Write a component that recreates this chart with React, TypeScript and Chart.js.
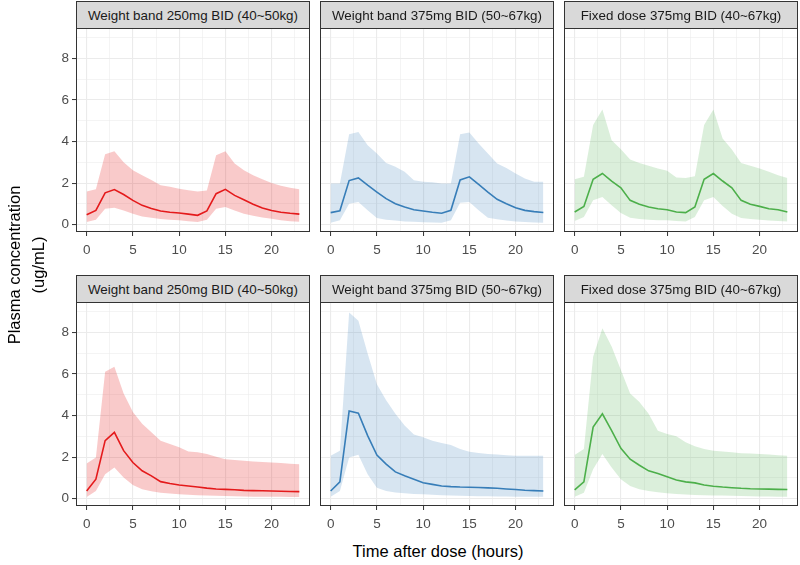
import React, { useEffect, useRef } from "react";
import { Chart, registerables } from "chart.js";

Chart.register(...registerables);

const hours = [0, 1, 2, 3, 4, 5, 6, 7, 8, 9, 10, 11, 12, 13, 14, 15, 16, 17, 18, 19, 20, 21, 22, 23];

const xMajorTicks = [0, 5, 10, 15, 20];
const xMinorTicks = [2.5, 7.5, 12.5, 17.5, 22.5];
const yMajorTicks = [0, 2, 4, 6, 8];
const yMinorTicks = [1, 3, 5, 7, 9];

const stripLabels = [
  "Weight band 250mg BID (40~50kg)",
  "Weight band 375mg BID (50~67kg)",
  "Fixed dose 375mg BID (40~67kg)",
];

// Row 1 (steady-state, two doses)
const r1wb250Mean = [0.48, 0.69, 1.53, 1.69, 1.45, 1.17, 0.93, 0.78, 0.66, 0.6, 0.56, 0.51, 0.45, 0.66, 1.49, 1.7, 1.41, 1.2, 0.98, 0.8, 0.68, 0.6, 0.55, 0.51];
const r1wb250Upper = [1.6, 1.7, 3.39, 3.53, 3.0, 2.62, 2.38, 2.15, 1.9, 1.82, 1.73, 1.66, 1.6, 1.64, 3.34, 3.53, 2.94, 2.62, 2.38, 2.18, 2.0, 1.87, 1.78, 1.7];
const r1wb250Lower = [0.13, 0.24, 0.77, 0.82, 0.68, 0.53, 0.4, 0.33, 0.27, 0.24, 0.21, 0.17, 0.13, 0.24, 0.77, 0.85, 0.68, 0.53, 0.43, 0.35, 0.29, 0.22, 0.17, 0.14];

const r1wb375Mean = [0.58, 0.67, 2.12, 2.25, 1.9, 1.57, 1.25, 1.01, 0.85, 0.72, 0.66, 0.6, 0.55, 0.69, 2.15, 2.3, 1.94, 1.57, 1.22, 1.01, 0.82, 0.69, 0.63, 0.59];
const r1wb375Upper = [1.98, 1.98, 4.34, 4.45, 3.82, 3.42, 2.97, 2.78, 2.54, 2.14, 2.06, 2.04, 1.98, 1.98, 4.35, 4.43, 3.9, 3.42, 2.94, 2.73, 2.46, 2.22, 2.06, 2.06];
const r1wb375Lower = [0.1, 0.21, 1.01, 1.09, 0.69, 0.32, 0.24, 0.2, 0.16, 0.14, 0.12, 0.11, 0.1, 0.21, 1.06, 1.09, 0.69, 0.34, 0.26, 0.2, 0.16, 0.13, 0.11, 0.1];

const r1fixMean = [0.61, 0.88, 2.18, 2.46, 2.09, 1.77, 1.17, 0.98, 0.85, 0.77, 0.72, 0.61, 0.58, 0.85, 2.18, 2.46, 2.1, 1.77, 1.17, 0.98, 0.88, 0.77, 0.72, 0.61];
const r1fixUpper = [2.18, 2.3, 4.79, 5.54, 4.06, 3.63, 3.13, 2.97, 2.83, 2.7, 2.59, 2.27, 2.25, 2.33, 4.79, 5.54, 4.14, 3.61, 2.97, 2.83, 2.7, 2.54, 2.38, 2.25];
const r1fixLower = [0.18, 0.37, 1.17, 1.33, 0.93, 0.56, 0.34, 0.28, 0.24, 0.22, 0.21, 0.18, 0.16, 0.37, 1.17, 1.33, 0.9, 0.53, 0.32, 0.28, 0.24, 0.2, 0.18, 0.16];

// Row 2 (single dose)
const r2wb250Mean = [0.37, 0.94, 2.79, 3.19, 2.31, 1.74, 1.34, 1.1, 0.82, 0.73, 0.66, 0.61, 0.56, 0.51, 0.47, 0.45, 0.43, 0.4, 0.39, 0.38, 0.37, 0.36, 0.35, 0.34];
const r2wb250Upper = [1.69, 1.98, 6.1, 6.34, 5.05, 4.16, 3.6, 3.19, 2.79, 2.63, 2.47, 2.27, 2.23, 2.15, 2.02, 1.9, 1.86, 1.82, 1.79, 1.76, 1.74, 1.71, 1.68, 1.66];
const r2wb250Lower = [0.08, 0.37, 1.18, 1.5, 1.02, 0.66, 0.45, 0.36, 0.29, 0.25, 0.21, 0.19, 0.17, 0.15, 0.14, 0.13, 0.12, 0.11, 0.1, 0.1, 0.09, 0.09, 0.08, 0.08];

const r2wb375Mean = [0.37, 0.81, 4.21, 4.11, 3.03, 2.1, 1.66, 1.29, 1.1, 0.94, 0.77, 0.69, 0.61, 0.58, 0.56, 0.55, 0.54, 0.52, 0.5, 0.47, 0.44, 0.41, 0.39, 0.37];
const r2wb375Upper = [2.06, 2.31, 8.95, 8.55, 6.98, 5.5, 4.73, 4.08, 3.52, 3.08, 2.95, 2.79, 2.68, 2.58, 2.39, 2.26, 2.2, 2.15, 2.12, 2.09, 2.06, 2.06, 2.06, 2.06];
const r2wb375Lower = [0.1, 0.37, 1.98, 2.11, 1.18, 0.53, 0.37, 0.3, 0.26, 0.23, 0.21, 0.19, 0.17, 0.15, 0.14, 0.13, 0.12, 0.12, 0.11, 0.11, 0.1, 0.1, 0.1, 0.1];

const r2fixMean = [0.42, 0.81, 3.44, 4.08, 3.27, 2.42, 1.9, 1.61, 1.34, 1.21, 1.05, 0.9, 0.81, 0.76, 0.66, 0.6, 0.56, 0.53, 0.5, 0.48, 0.47, 0.46, 0.45, 0.44];
const r2fixUpper = [2.1, 2.39, 6.82, 8.19, 7.31, 6.18, 5.05, 4.65, 4.08, 3.27, 3.11, 3.0, 2.71, 2.52, 2.39, 2.31, 2.27, 2.23, 2.19, 2.17, 2.15, 2.12, 2.09, 2.06];
const r2fixLower = [0.1, 0.29, 1.42, 2.15, 1.5, 0.94, 0.61, 0.46, 0.37, 0.31, 0.26, 0.23, 0.2, 0.18, 0.17, 0.16, 0.15, 0.14, 0.13, 0.12, 0.11, 0.11, 0.1, 0.1];

const lineColors = ["#E41A1C", "#377EB8", "#4DAF4A"];
const ribbonColors = ["rgba(228,26,28,0.23)", "rgba(55,126,184,0.2)", "rgba(77,175,74,0.2)"];

const FONT = "'Liberation Sans', Arial, Helvetica, sans-serif";
const COL_LEFT = [76, 320, 564];
const PANEL_W = 234;
const PANEL_H = 204;
const STRIP_H = 27;
const ROW_STRIP_TOP = [1, 275];
const Y_AXIS_W = 40;
const X_AXIS_H = 30;

const panelBorder = {
  id: "panelBorder",
  afterDraw(chart: any) {
    const { ctx, chartArea } = chart;
    ctx.save();
    ctx.strokeStyle = "#333333";
    ctx.lineWidth = 1;
    const l = Math.round(chartArea.left);
    const t = Math.round(chartArea.top);
    const w = Math.round(chartArea.right) - l;
    const h = Math.round(chartArea.bottom) - t;
    ctx.strokeRect(l + 0.5, t + 0.5, w - 1, h - 1);
    ctx.restore();
  },
};

type PanelProps = {
  left: number;
  top: number;
  colorIdx: number;
  upper: number[];
  mean: number[];
  lower: number[];
  showY: boolean;
};

function Panel({ left, top, colorIdx, upper, mean, lower, showY }: PanelProps) {
  const ref = useRef<HTMLCanvasElement | null>(null);
  useEffect(() => {
    if (!ref.current) return;
    const pts = (arr: number[]) => hours.map((h, i) => ({ x: h, y: arr[i] }));
    const isXMajor = (v: number) => xMajorTicks.includes(v);
    const isYMajor = (v: number) => yMajorTicks.includes(v);
    const chart = new Chart(ref.current, {
      type: "line",
      data: {
        datasets: [
          {
            data: pts(upper),
            borderWidth: 0,
            borderColor: "transparent",
            backgroundColor: ribbonColors[colorIdx],
            pointRadius: 0,
            fill: "+1",
            tension: 0,
          },
          {
            data: pts(lower),
            borderWidth: 0,
            borderColor: "transparent",
            pointRadius: 0,
            fill: false,
            tension: 0,
          },
          {
            data: pts(mean),
            borderWidth: 1.6,
            borderColor: lineColors[colorIdx],
            pointRadius: 0,
            fill: false,
            tension: 0,
          },
        ],
      },
      options: {
        animation: false,
        responsive: false,
        maintainAspectRatio: false,
        events: [],
        layout: { padding: 0 },
        plugins: { legend: { display: false }, tooltip: { enabled: false } },
        scales: {
          x: {
            type: "linear",
            min: -1.15,
            max: 24.15,
            afterBuildTicks: (scale: any) => {
              scale.ticks = [...xMajorTicks, ...xMinorTicks].sort((a, b) => a - b).map((v) => ({ value: v }));
            },
            afterFit: (scale: any) => {
              scale.height = X_AXIS_H;
              scale.paddingLeft = 0;
              scale.paddingRight = 0;
              scale.paddingTop = 0;
              scale.paddingBottom = 0;
            },
            border: { display: false },
            grid: {
              color: "#EBEBEB",
              lineWidth: (c: any) => (c.tick && isXMajor(c.tick.value) ? 1.1 : 0.55),
              tickColor: (c: any) => (c.tick && isXMajor(c.tick.value) ? "#333333" : "rgba(0,0,0,0)"),
              tickWidth: 1,
              tickLength: 4,
              drawTicks: true,
            },
            ticks: {
              autoSkip: false,
              maxRotation: 0,
              padding: 6,
              color: "#4D4D4D",
              font: { family: FONT, size: 13.5 },
              callback: (v: any) => (isXMajor(Number(v)) ? String(v) : ""),
            },
          },
          y: {
            type: "linear",
            min: -0.35,
            max: 9.45,
            afterBuildTicks: (scale: any) => {
              scale.ticks = [...yMajorTicks, ...yMinorTicks].sort((a, b) => a - b).map((v) => ({ value: v }));
            },
            afterFit: (scale: any) => {
              scale.width = showY ? Y_AXIS_W : 0;
              scale.paddingLeft = 0;
              scale.paddingRight = 0;
              scale.paddingTop = 0;
              scale.paddingBottom = 0;
            },
            border: { display: false },
            grid: {
              color: "#EBEBEB",
              lineWidth: (c: any) => (c.tick && isYMajor(c.tick.value) ? 1.1 : 0.55),
              tickColor: (c: any) => (c.tick && isYMajor(c.tick.value) ? "#333333" : "rgba(0,0,0,0)"),
              tickWidth: 1,
              tickLength: 4,
              drawTicks: showY,
            },
            ticks: {
              display: showY,
              autoSkip: false,
              padding: 3,
              color: "#4D4D4D",
              font: { family: FONT, size: 13.5 },
              callback: (v: any) => (isYMajor(Number(v)) ? String(v) : ""),
            },
          },
        },
      },
      plugins: [panelBorder],
    } as any);
    return () => chart.destroy();
  }, []);
  const cw = PANEL_W + (showY ? Y_AXIS_W : 0);
  const ch = PANEL_H + X_AXIS_H;
  return (
    <canvas
      ref={ref}
      width={cw}
      height={ch}
      style={{ position: "absolute", left: left - (showY ? Y_AXIS_W : 0), top, width: cw, height: ch }}
    />
  );
}

function Strip({ left, top, label }: { left: number; top: number; label: string }) {
  return (
    <div
      style={{
        position: "absolute",
        left,
        top,
        width: PANEL_W,
        height: STRIP_H + 1,
        boxSizing: "border-box",
        border: "1px solid #333333",
        background: "#D9D9D9",
        color: "#1A1A1A",
        fontFamily: FONT,
        fontSize: 13.4,
        display: "flex",
        alignItems: "center",
        justifyContent: "center",
        whiteSpace: "nowrap",
        zIndex: 2,
      }}
    >
      {label}
    </div>
  );
}

const rows = [
  [
    { upper: r1wb250Upper, mean: r1wb250Mean, lower: r1wb250Lower },
    { upper: r1wb375Upper, mean: r1wb375Mean, lower: r1wb375Lower },
    { upper: r1fixUpper, mean: r1fixMean, lower: r1fixLower },
  ],
  [
    { upper: r2wb250Upper, mean: r2wb250Mean, lower: r2wb250Lower },
    { upper: r2wb375Upper, mean: r2wb375Mean, lower: r2wb375Lower },
    { upper: r2fixUpper, mean: r2fixMean, lower: r2fixLower },
  ],
];

export default function App() {
  return (
    <div style={{ position: "absolute", left: 0, top: 0, width: 800, height: 565, background: "#FFFFFF", overflow: "hidden" }}>
      {rows.map((row, ri) =>
        row.map((p, ci) => (
          <React.Fragment key={`${ri}-${ci}`}>
            <Panel
              left={COL_LEFT[ci]}
              top={ROW_STRIP_TOP[ri] + STRIP_H}
              colorIdx={ci}
              upper={p.upper}
              mean={p.mean}
              lower={p.lower}
              showY={ci === 0}
            />
            <Strip left={COL_LEFT[ci]} top={ROW_STRIP_TOP[ri]} label={stripLabels[ci]} />
          </React.Fragment>
        ))
      )}
      <div
        style={{
          position: "absolute",
          left: 0,
          top: 540,
          width: 800,
          paddingLeft: 76,
          boxSizing: "border-box",
          textAlign: "center",
          fontFamily: FONT,
          fontSize: 16.5,
          color: "#000000",
          lineHeight: "22px",
        }}
      >
        Time after dose (hours)
      </div>
      <div
        style={{
          position: "absolute",
          left: 26 - 150,
          top: 265 - 24,
          width: 300,
          height: 48,
          transform: "rotate(-90deg)",
          textAlign: "center",
          fontFamily: FONT,
          fontSize: 16.5,
          color: "#000000",
          lineHeight: "24px",
        }}
      >
        Plasma concentration
        <br />
        (ug/mL)
      </div>
    </div>
  );
}
